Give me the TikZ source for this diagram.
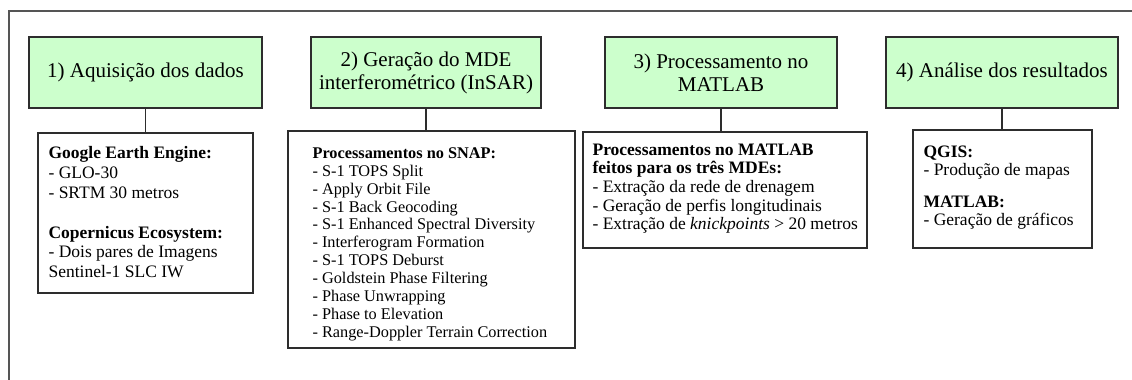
\documentclass[tikz,border=0pt]{standalone}
\usepackage{fontspec}
\setmainfont{Liberation Serif}
\definecolor{boxgreen}{RGB}{204,255,204}
\definecolor{edge}{RGB}{45,45,45}
\definecolor{framegray}{RGB}{85,85,85}
\begin{document}
\begin{tikzpicture}[x=1pt,y=-1pt,
  gbox/.style={draw=edge, line width=1.3pt, fill=boxgreen, align=center, inner sep=0pt,
    minimum height=71, font=\fontsize{21}{23}\selectfont},
  lbox/.style={draw=edge, line width=1.3pt, fill=white, inner sep=0pt},
  btext/.style={anchor=north west, align=left, inner sep=0pt},
  link/.style={draw=edge, line width=1.3pt},
  frameline/.style={draw=framegray, line width=1.3pt}]
\useasboundingbox (0,0) rectangle (1132,380);
\fill[white] (0,0) rectangle (1132,380);
\draw[frameline] (9,380) -- (9,11) -- (1132,11);

\node[gbox, minimum width=233] (g1) at (145.5,72.5) {1) Aquisição dos dados};
\node[gbox, minimum width=230] (g2) at (426,72.5) {2) Geração do MDE\\interferométrico (InSAR)};
\node[gbox, minimum width=232] (g3) at (721,72.5) {3) Processamento no\\MATLAB};
\node[gbox, minimum width=232] (g4) at (1002,72.5) {4) Análise dos resultados};

\node[lbox, minimum width=215, minimum height=160] (l1) at (145.5,213) {};
\node[lbox, minimum width=287, minimum height=217] (l2) at (431.5,239.5) {};
\node[lbox, minimum width=284, minimum height=116] (l3) at (725,190) {};
\node[lbox, minimum width=179, minimum height=118] (l4) at (1002.5,189) {};

\draw[link] (g1.south) -- (g1.south |- l1.north);
\draw[link] (g2.south) -- (g2.south |- l2.north);
\draw[link] (g3.south) -- (g3.south |- l3.north);
\draw[link] (g4.south) -- (g4.south |- l4.north);

\node[btext, font=\fontsize{17.5}{19.7}\selectfont] (t1) at ([shift={(11,14)}]l1.north west) {\textbf{Google Earth Engine:}\\- GLO-30\\- SRTM 30 metros\\[20.3pt]\textbf{Copernicus Ecosystem:}\\- Dois pares de Imagens\\Sentinel-1 SLC IW};
\node[btext, font=\fontsize{16.3}{17.9}\selectfont] (t2) at ([shift={(25,17)}]l2.north west) {\textbf{Processamentos no SNAP:}\\- S-1 TOPS Split\\- Apply Orbit File\\- S-1 Back Geocoding\\- S-1 Enhanced Spectral Diversity\\- Interferogram Formation\\- S-1 TOPS Deburst\\- Goldstein Phase Filtering\\- Phase Unwrapping\\- Phase to Elevation\\- Range-Doppler Terrain Correction};
\node[btext, font=\fontsize{17.5}{18.7}\selectfont] (t3) at ([shift={(10,12)}]l3.north west) {\textbf{Processamentos no MATLAB}\\\textbf{feitos para os três MDEs:}\\- Extração da rede de drenagem\\- Geração de perfis longitudinais\\- Extração de \textit{knickpoints} \textgreater{} 20 metros};
\node[btext, font=\fontsize{17.5}{18.3}\selectfont] (t4) at ([shift={(11,16)}]l4.north west) {\textbf{QGIS:}\\- Produção de mapas\\[13.4pt]\textbf{MATLAB:}\\- Geração de gráficos};
\end{tikzpicture}
\end{document}
